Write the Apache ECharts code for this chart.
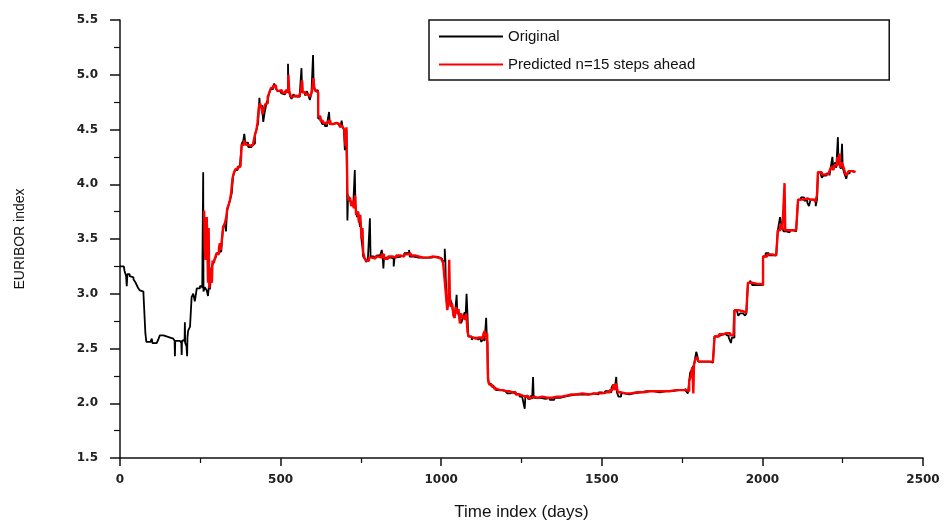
<!DOCTYPE html>
<html>
<head>
<meta charset="utf-8">
<script src="https://cdn.jsdelivr.net/npm/echarts@6/dist/echarts.min.js"></script>
<style>
html,body{margin:0;padding:0;background:#fff;}
#chart{width:950px;height:526px;}
</style>
</head>
<body>
<div id="chart"></div>
<script>
// ---- data ----
const seriesNames = ['Original', 'Predicted n=15 steps ahead'];
const xAxisTitle = 'Time index (days)';
const yAxisTitle = 'EURIBOR index';
const xRange = [0, 2500, 500];
const yRange = [1.5, 5.5, 0.5];

// [day, value]
const originalData = [
[0,3.25],[12,3.24],[14,3.21],[19,3.16],[21,3.07],[23,3.18],[30,3.16],[36,3.15],[42,3.13],[47,3.11],[52,3.08],[57,3.05],[62,3.03],[68,3.02],[73,3.00],[78,3.00],[79,2.64],[82,2.56],[95,2.55],[99,2.59],[101,2.55],[114,2.55],[119,2.58],[124,2.62],[135,2.63],[140,2.61],[145,2.60],[156,2.59],[166,2.58],[170,2.57],[171,2.43],[172,2.57],[187,2.56],[191,2.55],[192,2.44],[193,2.57],[197,2.58],[201,2.56],[202,2.74],[203,2.55],[207,2.52],[209,2.43],[210,2.60],[212,2.66],[218,2.70],[223,2.97],[228,3.00],[233,2.93],[239,3.05],[249,3.07],[256,3.05],[259,3.04],[259,4.11],[260,3.02],[264,3.06],[270,3.03],[274,2.98],[277,3.08],[280,3.04],[286,3.25],[292,3.30],[298,3.33],[301,3.37],[305,3.38],[311,3.46],[315,3.38],[318,3.50],[321,3.61],[326,3.64],[330,3.57],[333,3.75],[337,3.80],[342,3.85],[348,3.92],[352,4.07],[358,4.13],[366,4.16],[373,4.16],[379,4.37],[384,4.40],[387,4.46],[390,4.38],[399,4.34],[410,4.36],[415,4.37],[420,4.45],[425,4.50],[430,4.56],[434,4.79],[436,4.70],[442,4.72],[446,4.57],[450,4.65],[456,4.74],[461,4.78],
[464,4.83],[470,4.87],[477,4.89],[480,4.92],[485,4.88],[490,4.85],[498,4.86],[503,4.83],[508,4.82],[514,4.85],[520,4.84],[523,5.10],[525,4.86],[530,4.80],[534,4.78],[540,4.82],[546,4.80],[552,4.80],[560,4.84],[565,5.06],[567,4.84],[576,4.81],[582,4.85],[588,4.80],[591,4.77],[596,4.83],[601,5.18],[603,4.90],[608,4.85],[612,4.86],[616,4.80],[617,4.60],[625,4.58],[630,4.55],[638,4.53],[645,4.56],[651,4.66],[653,4.55],[664,4.56],[672,4.55],[680,4.54],[686,4.52],[690,4.58],[693,4.52],[697,4.50],[700,4.31],[703,4.45],[705,4.50],[708,3.67],[710,3.90],[716,3.85],[722,3.82],[726,3.80],[731,4.13],[733,3.80],[738,3.70],[742,3.75],[747,3.61],[750,3.65],[752,3.49],[755,3.42],[757,3.34],[762,3.32],[767,3.29],[772,3.33],[778,3.69],[780,3.34],[790,3.33],[799,3.35],[810,3.34],[815,3.40],[818,3.33],[820,3.23],[822,3.33],[835,3.33],[845,3.32],[852,3.25],[855,3.33],[861,3.34],[875,3.35],[885,3.37],[892,3.38],[900,3.40],[902,3.34],[915,3.33],[930,3.33],[944,3.33],[955,3.33],[970,3.34],[985,3.33],[996,3.33],[1000,3.32],
[1003,3.30],[1008,3.30],[1011,3.41],[1013,3.30],[1014,3.15],[1016,3.00],[1018,2.88],[1023,2.90],[1028,2.95],[1033,2.91],[1038,2.82],[1042,2.79],[1044,2.85],[1048,2.99],[1050,2.84],[1055,2.80],[1058,2.82],[1062,2.73],[1068,2.78],[1073,2.83],[1076,2.80],[1079,3.00],[1082,2.80],[1084,2.61],[1089,2.61],[1095,2.58],[1100,2.60],[1110,2.60],[1115,2.58],[1120,2.60],[1125,2.56],[1130,2.59],[1135,2.57],[1140,2.78],[1142,2.60],[1144,2.55],[1145,2.27],[1148,2.18],[1155,2.16],[1163,2.14],[1170,2.12],[1182,2.12],[1190,2.11],[1200,2.12],[1206,2.09],[1215,2.10],[1222,2.09],[1230,2.08],[1244,2.06],[1252,2.05],[1258,2.06],[1260,1.95],[1262,2.06],[1270,2.04],[1278,2.07],[1283,2.04],[1286,2.24],[1288,2.05],[1296,2.05],[1310,2.04],[1325,2.05],[1338,2.03],[1352,2.05],[1370,2.06],[1385,2.07],[1400,2.08],[1420,2.08],[1440,2.08],[1460,2.09],[1475,2.08],[1490,2.10],[1500,2.09],[1510,2.11],[1520,2.10],[1530,2.14],[1535,2.17],[1540,2.13],[1545,2.24],[1547,2.10],[1552,2.06],[1560,2.09],[1570,2.08],[1585,2.09],[1600,2.10],[1620,2.11],[1640,2.11],[1660,2.10],[1680,2.11],[1700,2.11],[1720,2.12],[1740,2.12],[1755,2.13],[1762,2.11],[1768,2.09],[1772,2.20],[1775,2.28],[1779,2.30],[1783,2.33],[1787,2.35],[1790,2.40],[1794,2.47],[1797,2.44],[1801,2.38],[1810,2.38],[1825,2.38],[1835,2.39],[1840,2.37],[1846,2.36],[1851,2.61],[1860,2.62],[1870,2.63],[1880,2.64],[1888,2.62],[1895,2.60],[1898,2.58],[1902,2.55],[1905,2.60],[1913,2.85],[1920,2.86],[1925,2.80],[1930,2.82],[1940,2.82],[1946,2.80],[1950,2.82],[1955,3.10],[1962,3.12],[1968,3.08],[1975,3.08],[1985,3.09],[1991,3.08],[2002,3.34],[2010,3.37],[2020,3.35],[2030,3.35],[2043,3.35],[2048,3.58],[2052,3.65],[2055,3.70],[2060,3.62],[2066,3.57],[2075,3.56],[2085,3.58],[2095,3.57],[2105,3.58],[2111,3.86],[2120,3.88],[2130,3.85],[2140,3.83],[2145,3.80],[2150,3.86],[2157,3.87],[2162,3.86],[2166,3.80],[2170,3.86],[2173,4.11],[2180,4.10],[2185,4.06],[2190,4.08],[2200,4.10],[2209,4.08],[2213,4.16],[2218,4.25],[2221,4.13],[2226,4.20],[2230,4.15],[2235,4.43],[2237,4.18],[2240,4.20],[2244,4.14],[2248,4.37],[2250,4.15],[2255,4.10],[2261,4.05],[2265,4.10],[2272,4.12],[2280,4.11],[2287,4.11]
];

const predictedData = [
[262,3.76],[264,3.40],[266,3.31],[268,3.45],[270,3.70],[272,3.44],[274,3.10],[276,3.60],[278,3.05],[280,3.20],[283,3.24],[286,3.10],[288,3.30],[292,3.28],[296,3.33],[301,3.37],[304,3.36],[308,3.42],[311,3.46],[314,3.40],[318,3.52],[321,3.61],[326,3.64],[331,3.70],[334,3.78],[337,3.80],[342,3.85],[346,3.92],[350,4.05],[354,4.10],[360,4.14],[368,4.16],[375,4.17],[379,4.36],[386,4.40],[392,4.36],[399,4.35],[408,4.36],[415,4.38],[420,4.45],[425,4.50],[428,4.56],[432,4.70],[436,4.74],[440,4.70],[444,4.64],[448,4.70],[452,4.73],[456,4.74],[460,4.80],[464,4.83],[470,4.88],[477,4.90],[481,4.90],[486,4.87],[492,4.85],[498,4.86],[504,4.84],[510,4.83],[516,4.86],[520,4.85],[524,5.00],[527,4.85],[532,4.80],[540,4.81],[548,4.80],[556,4.81],[562,4.84],[567,4.95],[569,4.84],[578,4.82],[586,4.83],[592,4.80],[598,4.85],[602,4.97],[605,4.88],[610,4.85],[614,4.84],[617,4.62],[624,4.58],[632,4.56],[640,4.56],[648,4.58],[655,4.55],[665,4.56],[675,4.55],[684,4.53],[692,4.54],[698,4.50],[702,4.35],[705,4.52],[708,3.92],[712,3.85],[716,3.88],[720,3.80],[724,3.85],[728,3.78],[732,3.90],[735,3.72],[740,3.75],[744,3.65],[748,3.72],[752,3.50],[755,3.60],[757,3.38],[762,3.32],[768,3.30],[775,3.33],[785,3.32],[795,3.34],[805,3.33],[815,3.36],[822,3.32],[835,3.34],[848,3.33],[860,3.35],[872,3.34],[885,3.36],[895,3.37],[905,3.35],[918,3.34],[930,3.33],[945,3.33],[960,3.34],[975,3.33],[990,3.32],[1000,3.31],[1006,3.28],[1010,3.15],[1013,3.05],[1016,2.95],[1019,2.85],[1022,2.92],[1025,3.31],[1027,2.95],[1030,2.88],[1034,2.91],[1038,2.80],[1042,2.78],[1046,2.88],[1050,2.82],[1054,2.86],[1058,2.73],[1062,2.82],[1066,2.78],[1070,2.80],[1074,2.76],[1078,2.82],[1082,2.65],[1086,2.61],[1092,2.60],[1100,2.59],[1108,2.60],[1116,2.59],[1122,2.60],[1128,2.58],[1132,2.64],[1136,2.66],[1140,2.58],[1143,2.64],[1146,2.21],[1150,2.17],[1158,2.15],[1166,2.13],[1175,2.12],[1182,2.12],[1192,2.11],[1202,2.11],[1212,2.10],[1222,2.10],[1232,2.08],[1244,2.07],[1254,2.06],[1262,2.07],[1270,2.05],[1280,2.06],[1290,2.05],[1300,2.06],[1315,2.05],[1330,2.05],[1345,2.06],[1360,2.06],[1375,2.07],[1390,2.08],[1405,2.08],[1420,2.09],[1440,2.08],[1460,2.09],[1480,2.09],[1500,2.10],[1515,2.10],[1525,2.12],[1532,2.11],[1537,2.17],[1541,2.12],[1545,2.18],[1550,2.10],[1560,2.09],[1575,2.09],[1590,2.10],[1610,2.10],[1630,2.11],[1650,2.11],[1670,2.11],[1690,2.11],[1710,2.12],[1730,2.12],[1750,2.12],[1762,2.13],[1768,2.11],[1772,2.20],[1776,2.24],[1779,2.28],[1782,2.33],[1785,2.09],[1787,2.35],[1791,2.40],[1796,2.42],[1801,2.38],[1815,2.38],[1830,2.38],[1846,2.38],[1851,2.61],[1865,2.63],[1878,2.64],[1888,2.64],[1900,2.62],[1910,2.62],[1913,2.85],[1925,2.84],[1940,2.83],[1950,2.83],[1955,3.10],[1970,3.09],[1985,3.09],[1995,3.08],[2002,3.34],[2015,3.36],[2030,3.35],[2043,3.35],[2048,3.58],[2055,3.63],[2062,3.58],[2068,3.58],[2069,4.01],[2071,3.58],[2085,3.58],[2095,3.58],[2105,3.58],[2111,3.86],[2125,3.87],[2140,3.86],[2150,3.86],[2160,3.86],[2165,3.84],[2170,3.90],[2173,4.11],[2185,4.09],[2195,4.09],[2205,4.08],[2210,4.13],[2215,4.16],[2220,4.13],[2225,4.18],[2230,4.17],[2233,4.25],[2236,4.20],[2240,4.28],[2242,4.15],[2246,4.20],[2250,4.18],[2254,4.14],[2258,4.10],[2262,4.08],[2268,4.12],[2275,4.12],[2282,4.11],[2290,4.11]
];

// ---- chart ----
const chart = echarts.init(document.getElementById('chart'), null, {renderer: 'canvas'});
const tickLabelFont = {color: '#222', fontFamily: 'DejaVu Sans', fontWeight: 'bold', fontSize: 12};
const axisLine = {show: true, lineStyle: {color: '#111', width: 1.5}};

chart.setOption({
  animation: false,
  backgroundColor: '#ffffff',
  grid: {left: 120, right: 27, top: 20, bottom: 68, containLabel: false},
  legend: {
    orient: 'vertical',
    left: 429, top: 20,
    data: seriesNames,
    icon: 'rect',
    padding: [8, 194, 7, 10],
    itemWidth: 64, itemHeight: 2, itemGap: 11,
    borderColor: '#111', borderWidth: 1.5, borderRadius: 0,
    backgroundColor: '#fff',
    textStyle: {color: '#111', fontFamily: 'Liberation Sans', fontSize: 15, lineHeight: 17},
    selectedMode: false
  },
  xAxis: {
    type: 'value',
    min: xRange[0], max: xRange[1], interval: xRange[2],
    name: xAxisTitle, nameLocation: 'middle', nameGap: 46,
    nameTextStyle: {color: '#111', fontFamily: 'Liberation Sans', fontSize: 17},
    axisLine: axisLine,
    axisTick: {show: true, length: 8, lineStyle: {color: '#111', width: 1.5}},
    minorTick: {show: true, splitNumber: 2, length: 5, lineStyle: {color: '#111', width: 1.2}},
    splitLine: {show: false},
    axisLabel: Object.assign({margin: 16, formatter: v => String(v)}, tickLabelFont)
  },
  yAxis: {
    type: 'value',
    min: yRange[0], max: yRange[1], interval: yRange[2],
    name: yAxisTitle, nameLocation: 'middle', nameGap: 93, nameRotate: 90,
    nameTextStyle: {color: '#111', fontFamily: 'Liberation Sans', fontSize: 14},
    axisLine: axisLine,
    axisTick: {show: true, length: 10, lineStyle: {color: '#111', width: 1.5}},
    minorTick: {show: true, splitNumber: 2, length: 6, lineStyle: {color: '#111', width: 1.2}},
    splitLine: {show: false},
    axisLabel: Object.assign({margin: 22, formatter: v => v.toFixed(1)}, tickLabelFont)
  },
  series: [
    {
      name: seriesNames[0], type: 'line', data: originalData, step: 'end',
      showSymbol: false, symbol: 'none',
      lineStyle: {color: '#000', width: 1.8},
      itemStyle: {color: '#000'},
      z: 2
    },
    {
      name: seriesNames[1], type: 'line', data: predictedData, step: 'end',
      showSymbol: false, symbol: 'none',
      lineStyle: {color: '#ff0000', width: 2.4},
      itemStyle: {color: '#ff0000'},
      z: 3
    }
  ]
});
</script>
</body>
</html>
